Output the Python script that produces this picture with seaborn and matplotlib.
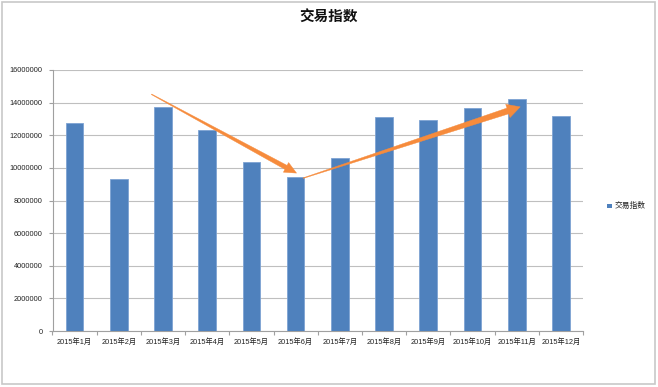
import numpy as np
import pandas as pd
import matplotlib
matplotlib.use("Agg")
import matplotlib.pyplot as plt
from matplotlib.patches import Polygon, Rectangle
from matplotlib.transforms import IdentityTransform
import seaborn as sns

months = ["2015年1月", "2015年2月", "2015年3月", "2015年4月", "2015年5月", "2015年6月",
          "2015年7月", "2015年8月", "2015年9月", "2015年10月", "2015年11月", "2015年12月"]
values = [12780000, 9310000, 13720000, 12350000, 10390000, 9450000,
          10600000, 13120000, 12960000, 13700000, 14220000, 13170000]
yticks = [0, 2000000, 4000000, 6000000, 8000000, 10000000, 12000000, 14000000, 16000000]
series_name = "交易指数"
title = "交易指数"
# annotation arrows (category index, value): start -> end
arrow_down = [(1.74, 14510000), (5.02, 9680000)]
arrow_up = [(5.17, 9370000), (10.08, 13740000)]

sns.set_theme(style="white")
fams = ["Liberation Sans", "Noto Sans CJK SC", "DejaVu Sans"]
plt.rcParams["font.family"] = fams

W, H = 658, 387
fig = plt.figure(figsize=(W / 100, H / 100), dpi=100)
fig.patch.set_facecolor("white")
ax = fig.add_axes([52.5 / W, 1 - 331 / H, (583 - 52.5) / W, (331 - 70) / H])

df = pd.DataFrame({"month": months, "value": values})
sns.barplot(data=df, x="month", y="value", color="#4F81BD", width=0.4,
            edgecolor="#7EA3D3", linewidth=0.6, saturation=1, ax=ax, zorder=3)

ax.set_xlim(-0.5, len(months) - 0.5)
ax.set_ylim(0, 16000000)
ax.set_yticks(yticks)
ax.set_yticklabels([str(v) for v in yticks], fontsize=5.3, color="#222222")
ax.set_xticks(range(len(months)))
ax.set_xticklabels(months, fontsize=5.3, color="#222222")
ax.set_xlabel("")
ax.set_ylabel("")
ax.grid(axis="y", color="#BFBFBF", linewidth=0.8, zorder=0)
ax.set_axisbelow(True)
for s in ["top", "right"]:
    ax.spines[s].set_visible(False)
for s in ["left", "bottom"]:
    ax.spines[s].set_color("#A0A0A0")
    ax.spines[s].set_linewidth(0.8)
ax.tick_params(axis="y", which="major", length=3, width=0.8, color="#A0A0A0", pad=4, left=True)
ax.tick_params(axis="x", which="major", length=0, pad=5, bottom=True)
ax.set_xticks(np.arange(-0.5, len(months), 1.0), minor=True)
ax.tick_params(axis="x", which="minor", length=3, width=0.8, color="#A0A0A0", bottom=True)

# title
fig.text(329 / W, 1 - 17 / H, title, ha="center", va="center", fontsize=10.5,
         fontweight="bold", color="#111111", family=["Noto Sans CJK SC", "DejaVu Sans"])

# legend
fig.patches.append(Rectangle((607 / W, 1 - 208 / H), 4.5 / W, 4.5 / H,
                             transform=fig.transFigure, facecolor="#4F81BD",
                             edgecolor="none", figure=fig))
fig.text(615 / W, 1 - 205.5 / H, series_name, ha="left", va="center", fontsize=5.6,
         color="#222222", family=["Noto Sans CJK SC", "DejaVu Sans"])

# chart border
fig.patches.append(Rectangle((1.5 / W, 3 / H), 653 / W, 382 / H, transform=fig.transFigure,
                             facecolor="none", edgecolor="#C8C8C8", linewidth=1.2, figure=fig))

# tapered arrows
def tapered_arrow(p0, p1, w0, w1, head_w, head_l, color):
    fig.canvas.draw()
    a = ax.transData.transform(p0)
    b = ax.transData.transform(p1)
    d = b - a
    L = np.hypot(*d)
    u = d / L
    n = np.array([-u[1], u[0]])
    base = b - u * head_l
    pts = [a + n * w0 / 2, base + n * w1 / 2, base + n * head_w / 2, b,
           base - n * head_w / 2, base - n * w1 / 2, a - n * w0 / 2]
    poly = Polygon(pts, closed=True, transform=IdentityTransform(), facecolor=color,
                   edgecolor=color, linewidth=0.3, zorder=10)
    fig.patches.append(poly)

tapered_arrow(arrow_down[0], arrow_down[1], 0.6, 4.5, 11, 12, "#F68B3C")
tapered_arrow(arrow_up[0], arrow_up[1], 0.6, 6, 14, 13, "#F68B3C")

fig.savefig("out.png", dpi=100, facecolor="white")
